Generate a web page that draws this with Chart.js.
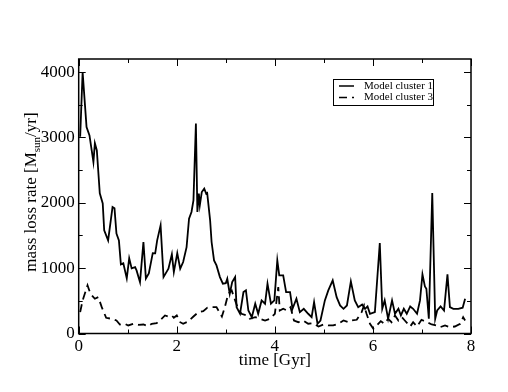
<!DOCTYPE html>
<html lang="en">
<head>
    <meta charset="UTF-8">
    <title>Mass loss rate</title>
    <script src="https://cdn.jsdelivr.net/npm/chart.js"></script>
    <style>
        body {
            margin: 0;
            background-color: #fff;
        }

        .chart-container {
            width: 508px;
            height: 392px;
        }
    </style>
</head>
<body>

    <div class="chart-container">
        <canvas id="lossChart"></canvas>
    </div>

    <script>
        // Datos
        const time1 = [0.03, 0.08, 0.16, 0.22, 0.30, 0.33, 0.37, 0.43, 0.49, 0.52, 0.60, 0.69, 0.73, 0.77, 0.82, 0.86, 0.91, 0.98,
            1.03, 1.08, 1.15, 1.18, 1.25, 1.32, 1.37, 1.43, 1.51, 1.56, 1.60, 1.67, 1.73, 1.83, 1.90, 1.94, 2.01, 2.07, 2.13,
            2.20, 2.25, 2.30, 2.34, 2.39, 2.42, 2.45, 2.47, 2.51, 2.56, 2.60, 2.62, 2.68, 2.71, 2.76, 2.81, 2.88, 2.94, 3.00,
            3.03, 3.08, 3.13, 3.19, 3.22, 3.29, 3.36, 3.41, 3.46, 3.53, 3.60, 3.66, 3.73, 3.80, 3.85, 3.92, 3.99, 4.05, 4.09,
            4.17, 4.23, 4.31, 4.36, 4.44, 4.51, 4.59, 4.68, 4.75, 4.80, 4.87, 4.93, 5.02, 5.09, 5.18, 5.26, 5.33, 5.40, 5.47,
            5.55, 5.63, 5.70, 5.78, 5.84, 5.89, 5.94, 6.04, 6.14, 6.19, 6.24, 6.31, 6.39, 6.45, 6.52, 6.57, 6.63, 6.69, 6.76,
            6.82, 6.90, 6.96, 7.01, 7.06, 7.09, 7.14, 7.21, 7.27, 7.31, 7.38, 7.45, 7.52, 7.57, 7.64, 7.74, 7.83, 7.88];
        const rate1 = [3010, 4000, 3160, 3030, 2625, 2910, 2800, 2145, 1990, 1580, 1425, 1935, 1915, 1530, 1425, 1057, 1073, 843,
            1150, 996, 1016, 965, 786, 1400, 843, 920, 1230, 1226, 1425, 1655, 863, 991, 1211, 940, 1230, 991, 1093,
            1322, 1757, 1860, 2038, 3213, 1860, 2141, 1962, 2165, 2217, 2141, 2150, 1732, 1400, 1119, 1042, 863, 762, 771,
            838, 608, 786, 863, 403, 302, 633, 659, 352, 250, 455, 302, 506, 455, 762, 455, 506, 1119, 889,
            889, 633, 633, 378, 532, 327, 378, 302, 250, 480, 149, 199, 506, 659, 812, 556, 429, 378, 429,
            797, 506, 403, 444, 378, 414, 302, 327, 1384, 378, 506, 225, 506, 302, 378, 276, 378, 302, 414,
            378, 302, 506, 904, 720, 685, 225, 2150, 225, 352, 414, 352, 904, 403, 378, 378, 394, 532];

        const time3 = [0.03, 0.08, 0.18, 0.24, 0.33, 0.40, 0.47, 0.56, 0.67, 0.77, 0.84, 0.94, 1.01, 1.11, 1.22, 1.32, 1.42, 1.49,
            1.59, 1.69, 1.76, 1.83, 1.90, 1.94, 2.00, 2.07, 2.13, 2.23, 2.34, 2.44, 2.54, 2.62, 2.71, 2.81, 2.92, 2.98, 3.05,
            3.12, 3.19, 3.25, 3.32, 3.43, 3.49, 3.60, 3.70, 3.80, 3.90, 4.00, 4.07, 4.10, 4.17, 4.25, 4.32, 4.39, 4.48, 4.58,
            4.68, 4.78, 4.89, 4.99, 5.09, 5.19, 5.29, 5.40, 5.50, 5.57, 5.67, 5.77, 5.82, 5.87, 5.94, 6.01, 6.08, 6.16, 6.23,
            6.31, 6.38, 6.45, 6.52, 6.59, 6.65, 6.76, 6.82, 6.90, 6.99, 7.10, 7.20, 7.29, 7.37, 7.47, 7.57, 7.67, 7.78, 7.84, 7.88];
        const rate3 = [327, 506, 736, 608, 532, 556, 403, 240, 225, 199, 138, 149, 123, 149, 133, 138, 112, 149,
            158, 225, 276, 260, 276, 240, 276, 173, 149, 184, 260, 327, 342, 394, 403, 403, 260, 403, 608,
            659, 506, 378, 302, 276, 225, 250, 225, 199, 225, 302, 710, 352, 378, 352, 403, 199, 173, 199,
            149, 158, 107, 138, 123, 123, 149, 199, 173, 199, 210, 327, 429, 302, 149, 72, 123, 189, 149,
            225, 173, 276, 199, 250, 199, 107, 173, 107, 210, 173, 138, 123, 97, 123, 97, 107, 149, 250, 199];

        const seriesNames = ['Model cluster 1', 'Model cluster 3'];
        const xTicks = [0, 2, 4, 6, 8];
        const xMinor = [1, 3, 5, 7];
        const yTicks = [0, 1000, 2000, 3000, 4000];
        const yMinor = [500, 1500, 2500, 3500];

        const FONT = "'Liberation Serif', 'Times New Roman', serif";

        // Marco, marcas hacia dentro, títulos y leyenda
        const framePlugin = {
            id: 'frame',
            afterDraw(chart) {
                const ctx = chart.ctx;
                const a = chart.chartArea;
                const xs = chart.scales.x;
                const ys = chart.scales.y;
                ctx.save();
                ctx.strokeStyle = '#000';
                ctx.lineWidth = 1.5;
                ctx.setLineDash([]);
                ctx.strokeRect(a.left, a.top, a.right - a.left, a.bottom - a.top);

                ctx.lineWidth = 1;
                ctx.beginPath();
                const tickX = (vals, len) => vals.forEach(v => {
                    const px = Math.round(xs.getPixelForValue(v)) + 0.5;
                    ctx.moveTo(px, a.bottom); ctx.lineTo(px, a.bottom - len);
                    ctx.moveTo(px, a.top); ctx.lineTo(px, a.top + len);
                });
                const tickY = (vals, len) => vals.forEach(v => {
                    const py = Math.round(ys.getPixelForValue(v)) + 0.5;
                    ctx.moveTo(a.left, py); ctx.lineTo(a.left + len, py);
                    ctx.moveTo(a.right, py); ctx.lineTo(a.right - len, py);
                });
                tickX(xTicks, 7); tickX(xMinor, 4);
                tickY(yTicks, 7); tickY(yMinor, 4);
                ctx.stroke();

                // título eje x
                ctx.fillStyle = '#000';
                ctx.font = '17px ' + FONT;
                ctx.textAlign = 'center';
                ctx.textBaseline = 'alphabetic';
                ctx.fillText('time [Gyr]', (a.left + a.right) / 2, 365);

                // título eje y con subíndice
                const parts = [['mass loss rate [M', 17, 0], ['sun', 11, 4], ['/yr]', 17, 0]];
                let total = 0;
                parts.forEach(p => { ctx.font = p[1] + 'px ' + FONT; total += ctx.measureText(p[0]).width; });
                ctx.translate(36, 192);
                ctx.rotate(-Math.PI / 2);
                ctx.textAlign = 'left';
                let cx = -total / 2;
                parts.forEach(p => {
                    ctx.font = p[1] + 'px ' + FONT;
                    ctx.fillText(p[0], cx, p[2]);
                    cx += ctx.measureText(p[0]).width;
                });
                ctx.setTransform(1, 0, 0, 1, 0, 0);

                // leyenda
                ctx.strokeStyle = '#000';
                ctx.lineWidth = 1;
                ctx.strokeRect(333.5, 79.5, 100, 26);
                ctx.font = '11px ' + FONT;
                chart.data.datasets.forEach((ds, i) => {
                    const ly = 86 + i * 11.5;
                    ctx.lineWidth = 1.5;
                    ctx.setLineDash(ds.borderDash || []);
                    ctx.beginPath();
                    ctx.moveTo(339, ly); ctx.lineTo(354, ly);
                    ctx.stroke();
                    ctx.setLineDash([]);
                    ctx.textBaseline = 'middle';
                    ctx.fillText(ds.label, 364, ly);
                });
                ctx.restore();
            }
        };

        const ctx = document.getElementById('lossChart').getContext('2d');
        const lossChart = new Chart(ctx, {
            type: 'line',
            data: {
                datasets: [{
                    label: seriesNames[0],
                    data: time1.map((t, i) => ({ x: t, y: rate1[i] })),
                    borderColor: '#000',
                    borderWidth: 1.8,
                    pointRadius: 0,
                    tension: 0
                }, {
                    label: seriesNames[1],
                    data: time3.map((t, i) => ({ x: t, y: rate3[i] })),
                    borderColor: '#000',
                    borderWidth: 1.8,
                    borderDash: [8, 5],
                    pointRadius: 0,
                    tension: 0
                }]
            },
            options: {
                responsive: true,
                maintainAspectRatio: false,
                animation: false,
                layout: { padding: { top: 59, right: 37, left: 0, bottom: 0 } },
                plugins: {
                    legend: { display: false },
                    tooltip: { enabled: false }
                },
                scales: {
                    x: {
                        type: 'linear',
                        min: 0,
                        max: 8,
                        afterBuildTicks: s => { s.ticks = xTicks.map(v => ({ value: v })); },
                        afterFit: s => { s.height = 58.5; },
                        grid: { display: false, drawTicks: false },
                        border: { display: false },
                        ticks: { color: '#000', padding: 3, font: { family: FONT, size: 17 }, callback: v => String(v) }
                    },
                    y: {
                        min: 0,
                        max: 4200,
                        afterBuildTicks: s => { s.ticks = yTicks.map(v => ({ value: v })); },
                        afterFit: s => { s.width = 78.7; },
                        grid: { display: false, drawTicks: false },
                        border: { display: false },
                        ticks: { color: '#000', padding: 4, font: { family: FONT, size: 17 }, callback: v => String(v) }
                    }
                }
            },
            plugins: [framePlugin]
        });
    </script>

</body>
</html>
